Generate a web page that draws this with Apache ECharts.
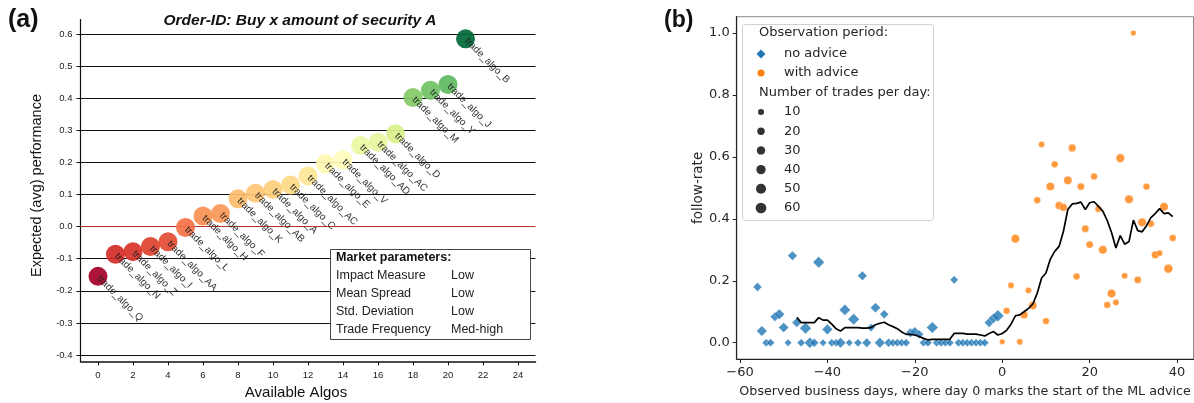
<!DOCTYPE html>
<html><head><meta charset="utf-8">
<script src="https://cdn.jsdelivr.net/npm/echarts@6/dist/echarts.min.js"></script>
<style>html,body{margin:0;padding:0;background:#fff}#c{width:1194px;height:403px}</style>
</head><body><div id="c"></div>
<script>
// ---------- Panel (a) data ----------
const algoNames = ['trade_algo_Q','trade_algo_N','trade_algo_Z','trade_algo_I','trade_algo_AA','trade_algo_L','trade_algo_H','trade_algo_F','trade_algo_K','trade_algo_AB','trade_algo_A','trade_algo_C','trade_algo_AC','trade_algo_E','trade_algo_V','trade_algo_AD','trade_algo_AC','trade_algo_D','trade_algo_M','trade_algo_Y','trade_algo_J','trade_algo_B'];
const algoIndex = [0,1,2,3,4,5,6,7,8,9,10,11,12,13,14,15,16,17,18,19,20,21];
const algoPerf = [-0.155,-0.086,-0.078,-0.062,-0.047,-0.003,0.033,0.041,0.087,0.104,0.116,0.13,0.158,0.196,0.208,0.253,0.263,0.289,0.402,0.425,0.443,0.585];
const aYTicks = [-0.4,-0.3,-0.2,-0.1,0,0.1,0.2,0.3,0.4,0.5,0.6];
const aXTicks = [0,2,4,6,8,10,12,14,16,18,20,22,24];
const aTitle = 'Order-ID: Buy x amount of security A';
const marketTitle = 'Market parameters:';
const marketRows = [['Impact Measure','Low'],['Mean Spread','Low'],['Std. Deviation','Low'],['Trade Frequency','Med-high']];

// ---------- Panel (b) data ----------
const noAdviceDays = [-56,-55,-54,-53,-52,-51,-50,-49,-48,-47,-46,-45,-44,-43,-42,-41,-40,-39,-38,-37,-36,-35,-34,-33,-32,-31,-30,-29,-28,-27,-26,-25,-24,-23,-22,-21,-20,-19,-18,-17,-16,-15,-14,-13,-12,-11,-10,-9,-8,-7,-6,-5,-4,-3,-2,-1];
const noAdviceRate = [0.18,0.038,0,0,0.084,0.092,0.049,0,0.281,0.065,0,0.047,0,0,0.26,0,0.043,0,0,0,0.106,0,0.076,0,0.216,0,0.049,0.113,0,0.092,0,0,0,0,0,0.032,0.036,0.027,0,0,0.049,0,0,0,0,0.203,0,0,0,0,0,0,0,0.065,0.079,0.087];
const noAdviceTrades = [20,35,15,15,25,35,30,10,25,25,15,45,40,20,45,10,35,15,15,35,40,10,45,15,25,25,15,30,35,20,20,15,15,15,15,25,25,20,15,15,45,15,15,15,15,15,15,15,15,15,15,15,15,25,30,50];
const adviceDays = [0,1,2,3,4,5,6,7,8,9,10,11,12,13,14,15,16,17,18,19,20,21,22,23,24,25,26,27,28,29,30,31,32,33,34,35,36,37,38,39];
const adviceRate = [0.003,0.103,0.185,0.336,0.003,0.09,0.169,0.12,0.46,0.64,0.07,0.504,0.576,0.443,0.437,0.524,0.629,0.214,0.504,0.368,0.317,0.537,0.432,0.3,0.122,0.159,0.13,0.596,0.216,0.463,1.0,0.203,0.389,0.504,0.384,0.284,0.289,0.439,0.239,0.338];
const adviceTrades = [10,20,15,40,15,30,15,35,20,15,20,35,20,30,30,35,30,20,25,25,25,20,20,40,20,40,15,40,15,40,10,25,40,20,20,30,15,40,45,20];
const rollDays = [-47,-46,-45,-44,-43,-42,-41,-40,-39,-38,-37,-36,-35,-34,-33,-32,-31,-30,-29,-28,-27,-26,-25,-24,-23,-22,-21,-20,-19,-18,-17,-16,-15,-14,-13,-12,-11,-10,-9,-8,-7,-6,-5,-4,-3,-2,-1,0,1,2,3,4,5,6,7,8,9,10,11,12,13,14,15,16,17,18,19,20,21,22,23,24,25,26,27,28,29,30,31,32,33,34,35,36,37,38,39];
const rollRate = [0.082,0.065,0.065,0.065,0.065,0.081,0.073,0.073,0.06,0.045,0.038,0.049,0.049,0.049,0.049,0.047,0.047,0.049,0.058,0.063,0.066,0.058,0.052,0.045,0.035,0.027,0.027,0.025,0.02,0.014,0.009,0.011,0.011,0.011,0.011,0.011,0.03,0.03,0.03,0.028,0.028,0.028,0.025,0.022,0.03,0.036,0.025,0.03,0.04,0.06,0.087,0.09,0.1,0.111,0.125,0.16,0.209,0.225,0.27,0.295,0.311,0.36,0.43,0.448,0.45,0.454,0.43,0.452,0.455,0.44,0.425,0.395,0.356,0.306,0.346,0.318,0.327,0.396,0.362,0.358,0.378,0.404,0.417,0.433,0.417,0.419,0.407];
const bYTicks = [0,0.2,0.4,0.6,0.8,1.0];
const bXTicks = [-60,-40,-20,0,20,40];
const legendTitle1 = 'Observation period:';
const legendPeriods = ['no advice','with advice'];
const legendTitle2 = 'Number of trades per day:';
const legendSizes = [10,20,30,40,50,60];

// ---------- styles ----------
const fA = '"Liberation Sans", Arial, sans-serif';
const fB = '"DejaVu Sans", sans-serif';
const BLUE = '#1f77b4', ORANGE = '#ff7f0e';
const sizeOf = t => 3.2 * Math.sqrt(t / 10) + 2.9;
const minus = v => String(v).replace('-', '\u2212');

const chart = echarts.init(document.getElementById('c'));

const gridMarks = aYTicks.map(v => v === 0
  ? {yAxis: v, lineStyle: {color: '#b3342a', width: 1.2, type: 'solid'}}
  : {yAxis: v, lineStyle: {color: '#111', width: 1, type: 'solid'}});

const graphics = [];
// market parameters box
graphics.push({type: 'rect', z: 100, shape: {x: 330.5, y: 249.5, width: 200, height: 90},
  style: {fill: '#fff', stroke: '#444', lineWidth: 1}});
graphics.push({type: 'text', z: 101, x: 336, y: 258,
  style: {text: marketTitle, font: 'bold 12.5px ' + fA, fill: '#111', verticalAlign: 'middle'}});
marketRows.forEach((r, i) => {
  const y = 276 + i * 17.7;
  graphics.push({type: 'text', z: 101, x: 336, y: y, style: {text: r[0], font: '12.5px ' + fA, fill: '#222', verticalAlign: 'middle'}});
  graphics.push({type: 'text', z: 101, x: 451, y: y, style: {text: r[1], font: '12.5px ' + fA, fill: '#222', verticalAlign: 'middle'}});
});
// legend of panel (b)
graphics.push({type: 'rect', z: 100, shape: {x: 742.5, y: 24.5, width: 191, height: 196, r: 3},
  style: {fill: '#fff', stroke: '#d0d0d0', lineWidth: 1}});
const lf = '13px ' + fB;
graphics.push({type: 'text', z: 101, x: 759, y: 33, style: {text: legendTitle1, font: lf, fill: '#262626', verticalAlign: 'middle'}});
graphics.push({type: 'polygon', z: 101, shape: {points: [[761, 49.5], [765.5, 54], [761, 58.5], [756.5, 54]]}, style: {fill: BLUE}});
graphics.push({type: 'text', z: 101, x: 784, y: 54, style: {text: legendPeriods[0], font: lf, fill: '#262626', verticalAlign: 'middle'}});
graphics.push({type: 'circle', z: 101, shape: {cx: 761, cy: 73, r: 3.5}, style: {fill: ORANGE}});
graphics.push({type: 'text', z: 101, x: 784, y: 73, style: {text: legendPeriods[1], font: lf, fill: '#262626', verticalAlign: 'middle'}});
graphics.push({type: 'text', z: 101, x: 759, y: 93, style: {text: legendTitle2, font: lf, fill: '#262626', verticalAlign: 'middle'}});
legendSizes.forEach((s, i) => {
  const y = 112 + i * 19.2;
  graphics.push({type: 'circle', z: 101, shape: {cx: 761, cy: y, r: sizeOf(s) / 2}, style: {fill: '#333'}});
  graphics.push({type: 'text', z: 101, x: 784, y: y, style: {text: String(s), font: lf, fill: '#262626', verticalAlign: 'middle'}});
});

const option = {
  animation: false,
  title: [
    {text: '(a)', left: 8, top: 8, padding: 0, textStyle: {fontFamily: fA, fontWeight: 'bold', fontSize: 25, color: '#111'}},
    {text: aTitle, left: 300, top: 13, padding: 0, textAlign: 'center', textStyle: {fontFamily: fA, fontWeight: 'bold', fontStyle: 'italic', fontSize: 15.5, color: '#111'}},
    {text: '(b)', left: 664, top: 9, padding: 0, textStyle: {fontFamily: fA, fontWeight: 'bold', fontSize: 23, color: '#111'}}
  ],
  grid: [
    {left: 80.5, right: 1194 - 535.5, top: 19.6, bottom: 403 - 361.4, outerBoundsMode: 'none', containLabel: false},
    {left: 736.7, right: 0.5, top: 16.7, bottom: 44, show: true, borderColor: '#8a8a8a', borderWidth: 1, outerBoundsMode: 'none', containLabel: false}
  ],
  visualMap: [{
    type: 'continuous', show: false, seriesIndex: 0, dimension: 1, min: -0.155, max: 0.585,
    inRange: {color: ['#a50026','#d73027','#f46d43','#fdae61','#fee08b','#ffffbf','#d9ef8b','#a6d96a','#66bd63','#1a9850','#006837']}
  }],
  xAxis: [
    {gridIndex: 0, type: 'value', min: -1, max: 25,
      axisLine: {show: true, onZero: false, lineStyle: {color: '#111', width: 1.5}},
      axisTick: {show: true, length: 4, customValues: aXTicks, lineStyle: {color: '#111'}},
      axisLabel: {customValues: aXTicks, fontSize: 9.5, color: '#222', margin: 9, fontFamily: fA},
      splitLine: {show: false},
      name: 'Available Algos', nameLocation: 'middle', nameGap: 23,
      nameTextStyle: {fontFamily: fA, fontSize: 15, color: '#111', padding: [0, 24, 0, 0]}},
    {gridIndex: 1, type: 'value', min: -60.75, max: 43.75,
      axisLine: {show: true, onZero: false, lineStyle: {color: '#222', width: 1.2}},
      axisTick: {show: true, length: 4, customValues: bXTicks, lineStyle: {color: '#222'}},
      axisLabel: {customValues: bXTicks, fontSize: 13, color: '#262626', margin: 7, fontFamily: fB, formatter: minus},
      splitLine: {show: false},
      name: 'Observed business days, where day 0 marks the start of the ML advice', nameLocation: 'middle', nameGap: 26,
      nameTextStyle: {fontFamily: fB, fontSize: 12.7, color: '#262626'}}
  ],
  yAxis: [
    {gridIndex: 0, type: 'value', min: -0.42, max: 0.645,
      axisLine: {show: true, onZero: false, lineStyle: {color: '#111', width: 1.2}},
      axisTick: {show: true, length: 4, customValues: aYTicks, lineStyle: {color: '#111'}},
      axisLabel: {customValues: aYTicks, fontSize: 9.5, color: '#222', margin: 8, fontFamily: fA, formatter: v => v.toFixed(1)},
      splitLine: {show: false},
      name: 'Expected (avg) performance', nameLocation: 'middle', nameGap: 36, nameRotate: 90,
      nameTextStyle: {fontFamily: fA, fontSize: 14.5, color: '#111', padding: [0, 0, 0, 10]}},
    {gridIndex: 1, type: 'value', min: -0.0525, max: 1.0525,
      axisLine: {show: true, onZero: false, lineStyle: {color: '#222', width: 1.2}},
      axisTick: {show: true, length: 4, customValues: bYTicks, lineStyle: {color: '#222'}},
      axisLabel: {customValues: bYTicks, fontSize: 13, color: '#262626', margin: 7, fontFamily: fB, formatter: v => v.toFixed(1)},
      splitLine: {show: false},
      name: 'follow-rate', nameLocation: 'middle', nameGap: 30, nameRotate: 90,
      nameTextStyle: {fontFamily: fB, fontSize: 13.5, color: '#262626'}}
  ],
  series: [
    {type: 'scatter', xAxisIndex: 0, yAxisIndex: 0, symbol: 'circle', symbolSize: 19, z: 3,
      data: algoIndex.map((x, i) => ({value: [x, algoPerf[i]], name: algoNames[i]})),
      itemStyle: {opacity: 0.92},
      label: {show: true, formatter: p => p.name, position: ['50%', '50%'], align: 'left', verticalAlign: 'middle',
        rotate: -45, fontSize: 10, fontFamily: fA, color: '#222', offset: [1, 0]},
      markLine: {silent: true, symbol: ['none', 'none'], label: {show: false}, animation: false, z: 1, data: gridMarks}
    },
    {type: 'scatter', name: 'no advice', xAxisIndex: 1, yAxisIndex: 1, symbol: 'diamond',
      data: noAdviceDays.map((d, i) => [d, noAdviceRate[i], noAdviceTrades[i]]),
      symbolSize: v => sizeOf(v[2]) * 1.2,
      itemStyle: {color: BLUE, borderColor: '#fff', borderWidth: 0.5}},
    {type: 'scatter', name: 'with advice', xAxisIndex: 1, yAxisIndex: 1, symbol: 'circle',
      data: adviceDays.map((d, i) => [d, adviceRate[i], adviceTrades[i]]),
      symbolSize: v => sizeOf(v[2]) * 0.92,
      itemStyle: {color: ORANGE, borderColor: '#fff', borderWidth: 0.5}},
    {type: 'line', name: 'rolling', xAxisIndex: 1, yAxisIndex: 1, showSymbol: false, symbol: 'none',
      data: rollDays.map((d, i) => [d, rollRate[i]]),
      lineStyle: {color: '#000', width: 1.7}, z: 4}
  ],
  graphic: graphics
};
chart.setOption(option);
</script>
</body></html>
